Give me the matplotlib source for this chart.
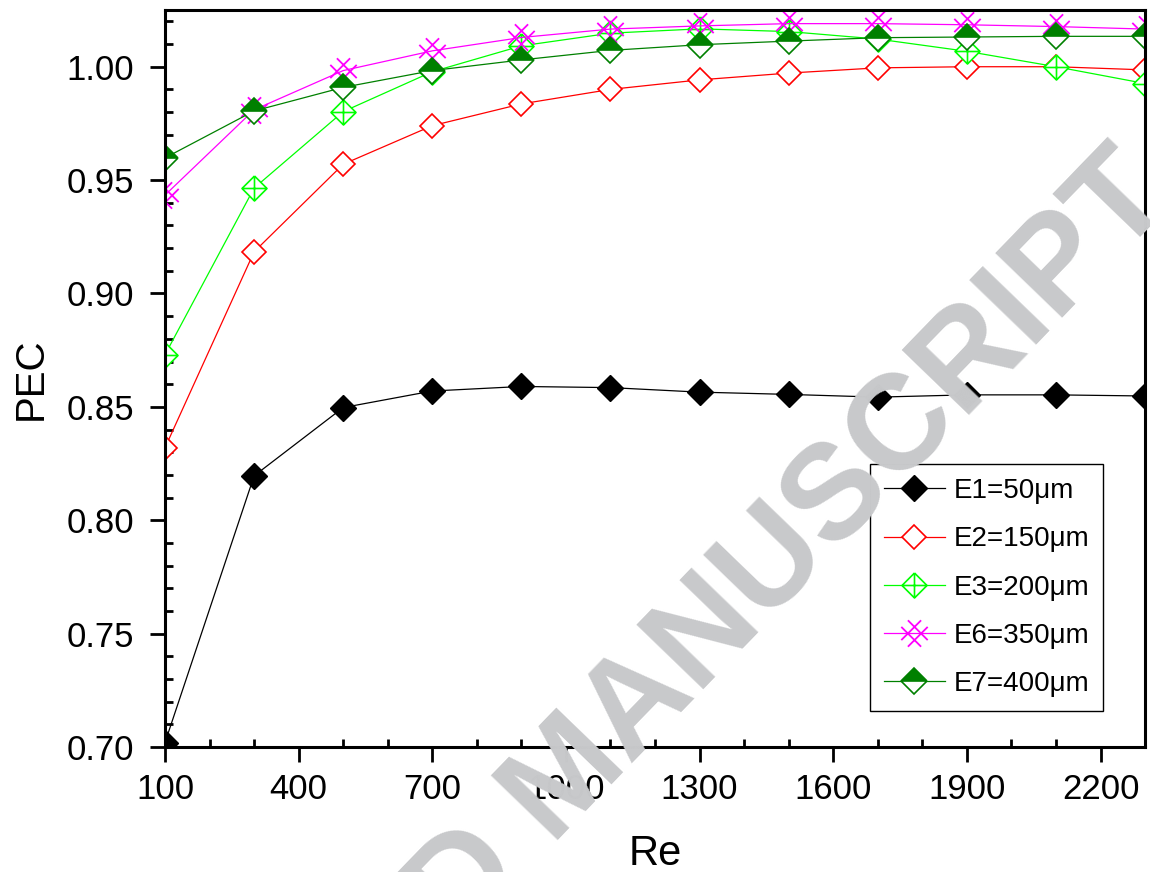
import matplotlib
matplotlib.use("Agg")
import matplotlib.pyplot as plt
from matplotlib.path import Path
from matplotlib.ticker import MultipleLocator

plt.rcParams['font.family'] = ['Liberation Sans', 'DejaVu Sans']

# data
re = [100, 300, 500, 700, 900, 1100, 1300, 1500, 1700, 1900, 2100, 2300]
e1 = [0.702, 0.8196, 0.8497, 0.857, 0.859, 0.8585, 0.8565, 0.8555, 0.8543, 0.8553, 0.8553, 0.8548]
e2 = [0.832, 0.9184, 0.957, 0.974, 0.9836, 0.990, 0.9942, 0.9972, 0.9995, 1.0000, 1.0000, 0.9986]
e3 = [0.873, 0.9465, 0.9802, 0.9978, 1.0092, 1.0148, 1.0167, 1.0155, 1.0122, 1.0068, 1.0000, 0.9926]
e6 = [0.9434, 0.981, 0.9983, 1.007, 1.0129, 1.0166, 1.018, 1.019, 1.019, 1.0185, 1.0177, 1.0166]
e7 = [0.9598, 0.9805, 0.9909, 0.9983, 1.003, 1.0072, 1.0097, 1.0113, 1.0128, 1.0131, 1.0134, 1.0134]
labels = ['E1=50μm', 'E2=150μm', 'E3=200μm', 'E6=350μm', 'E7=400μm']

# diamond with a plus inside
dplus = Path([(0, 1), (1, 0), (0, -1), (-1, 0), (0, 1), (0, 1), (0, -1), (-1, 0), (1, 0)],
             [1, 2, 2, 2, 2, 1, 2, 1, 2])
# rotated hash
d = 0.5
hashm = Path([(-1, -d), (d, 1), (-d, -1), (1, d), (-d, 1), (1, -d), (-1, d), (d, -1)],
             [1, 2, 1, 2, 1, 2, 1, 2])

fig = plt.figure(figsize=(11.5, 8.72), dpi=100)
ax = fig.add_axes([0.1435, 0.1433, 0.8522, 0.8452])

fig.text(0.494, 0.107, 'ACCEPTED MANUSCRIPT', fontsize=97, fontweight='bold',
         color='#c8c9cb', rotation=46, ha='center', va='center',
         rotation_mode='anchor', zorder=0)
ax.patch.set_alpha(0)

lw = 0.9
ax.plot(re, e1, color='black', lw=lw, marker='D', ms=13.5, mfc='black', mec='black', label=labels[0])
ax.plot(re, e2, color='red', lw=lw, marker='D', ms=12, mfc='white', mec='red', mew=1.2, label=labels[1])
ax.plot(re, e3, color='#00ff00', lw=lw, marker=dplus, ms=18, mfc='white', mec='#00ff00', mew=1.2, label=labels[2])
ax.plot(re, e6, color='#ff00ff', lw=lw, marker=hashm, ms=19, mfc='none', mec='#ff00ff', mew=1.3, label=labels[3])
ax.plot(re, e7, color='#008000', lw=lw, marker='D', ms=13.5, fillstyle='top', mfc='#008000',
        mfcalt='white', mec='#008000', mew=1.2, label=labels[4])

ax.set_xlim(100, 2300)
ax.set_ylim(0.70, 1.025)
ax.set_xticks(range(100, 2300, 300))
ax.set_yticks([0.70, 0.75, 0.80, 0.85, 0.90, 0.95, 1.00])
ax.xaxis.set_minor_locator(MultipleLocator(100))
ax.yaxis.set_minor_locator(MultipleLocator(0.01))
ax.tick_params(which='major', direction='out', length=11, width=2, labelsize=25, pad=8)
ax.tick_params(axis='y', which='major', pad=11)
ax.tick_params(which='minor', direction='in', length=6, width=2)
for s in ax.spines.values():
    s.set_linewidth(2.2)

ax.set_xlabel('Re', fontsize=30, labelpad=20)
ax.set_ylabel('PEC', fontsize=29, labelpad=12)

leg = ax.legend(loc='lower right', bbox_to_anchor=(0.957, 0.049), fontsize=20,
                fancybox=False, edgecolor='black', framealpha=1, handlelength=2.2,
                labelspacing=0.8, borderaxespad=0, handletextpad=0.3, borderpad=0.5)
leg.get_frame().set_linewidth(1)

fig.savefig('out.png', dpi=100)
